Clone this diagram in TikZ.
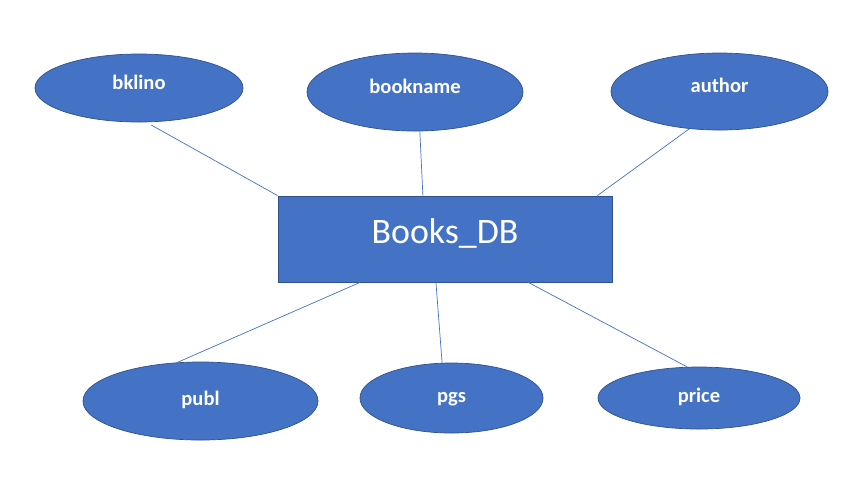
\documentclass[tikz,border=0pt]{standalone}
\usepackage{fontspec}
\setmainfont{Carlito}
\usetikzlibrary{shapes.geometric}
\usetikzlibrary{calc}
\definecolor{erfill}{HTML}{4472C4}
\definecolor{erdraw}{HTML}{2F528F}
\tikzset{attr/.style={ellipse,fill=erfill,draw=erdraw,line width=0.5pt,inner sep=0pt,text=white,text height=7pt,text depth=5pt,font=\fontsize{14.6}{16}\selectfont\bfseries}}
\tikzset{lowtext/.style={text height=9pt,text depth=3pt}}
\tikzset{entity/.style={rectangle,fill=erfill,draw=erdraw,line width=0.6pt,inner sep=0pt,text=white,text height=16pt,text depth=10pt,font=\fontsize{25.5}{28}\selectfont,minimum width=8.35cm,minimum height=2.15cm}}
\tikzset{link/.style={draw=erfill,line width=0.5pt}}

\begin{document}
\begin{tikzpicture}[x=0.025cm,y=-0.025cm]
      \useasboundingbox (0,0) rectangle (847,483);

      \node[entity] at (445,239) (db) {Books\_DB};

      \node[attr,minimum width=5.2cm,minimum height=1.7cm] at (139,88) (bklino) {bklino};
      \node[attr,minimum width=5.4cm,minimum height=1.95cm] at (415,92) (bookname) {bookname};
      \node[attr,minimum width=5.425cm,minimum height=1.925cm] at (719.5,91.5) (author) {author};
      \node[attr,lowtext,minimum width=5.875cm,minimum height=1.95cm] at (200.5,401) (publ) {publ};
      \node[attr,lowtext,text height=10pt,minimum width=4.575cm,minimum height=1.75cm] at (451.5,398) (pgs) {pgs};
      \node[attr,lowtext,minimum width=5.05cm,minimum height=1.55cm] at (699,398) (price) {price};

      \draw[link,shorten <=4pt] (bklino.-78) -- (db.north west);
      \draw[link] (bookname.-83) -- ($(db.north west)!0.434!(db.north east)$);
      \draw[link] (author.231) -- ($(db.north west)!0.955!(db.north east)$);
      \draw[link] ($(db.south west)!0.246!(db.south east)$) -- (publ.121);
      \draw[link] ($(db.south west)!0.473!(db.south east)$) -- (pgs.105);
      \draw[link] ($(db.south west)!0.749!(db.south east)$) -- (price.111);

    \end{tikzpicture}
\end{document}
